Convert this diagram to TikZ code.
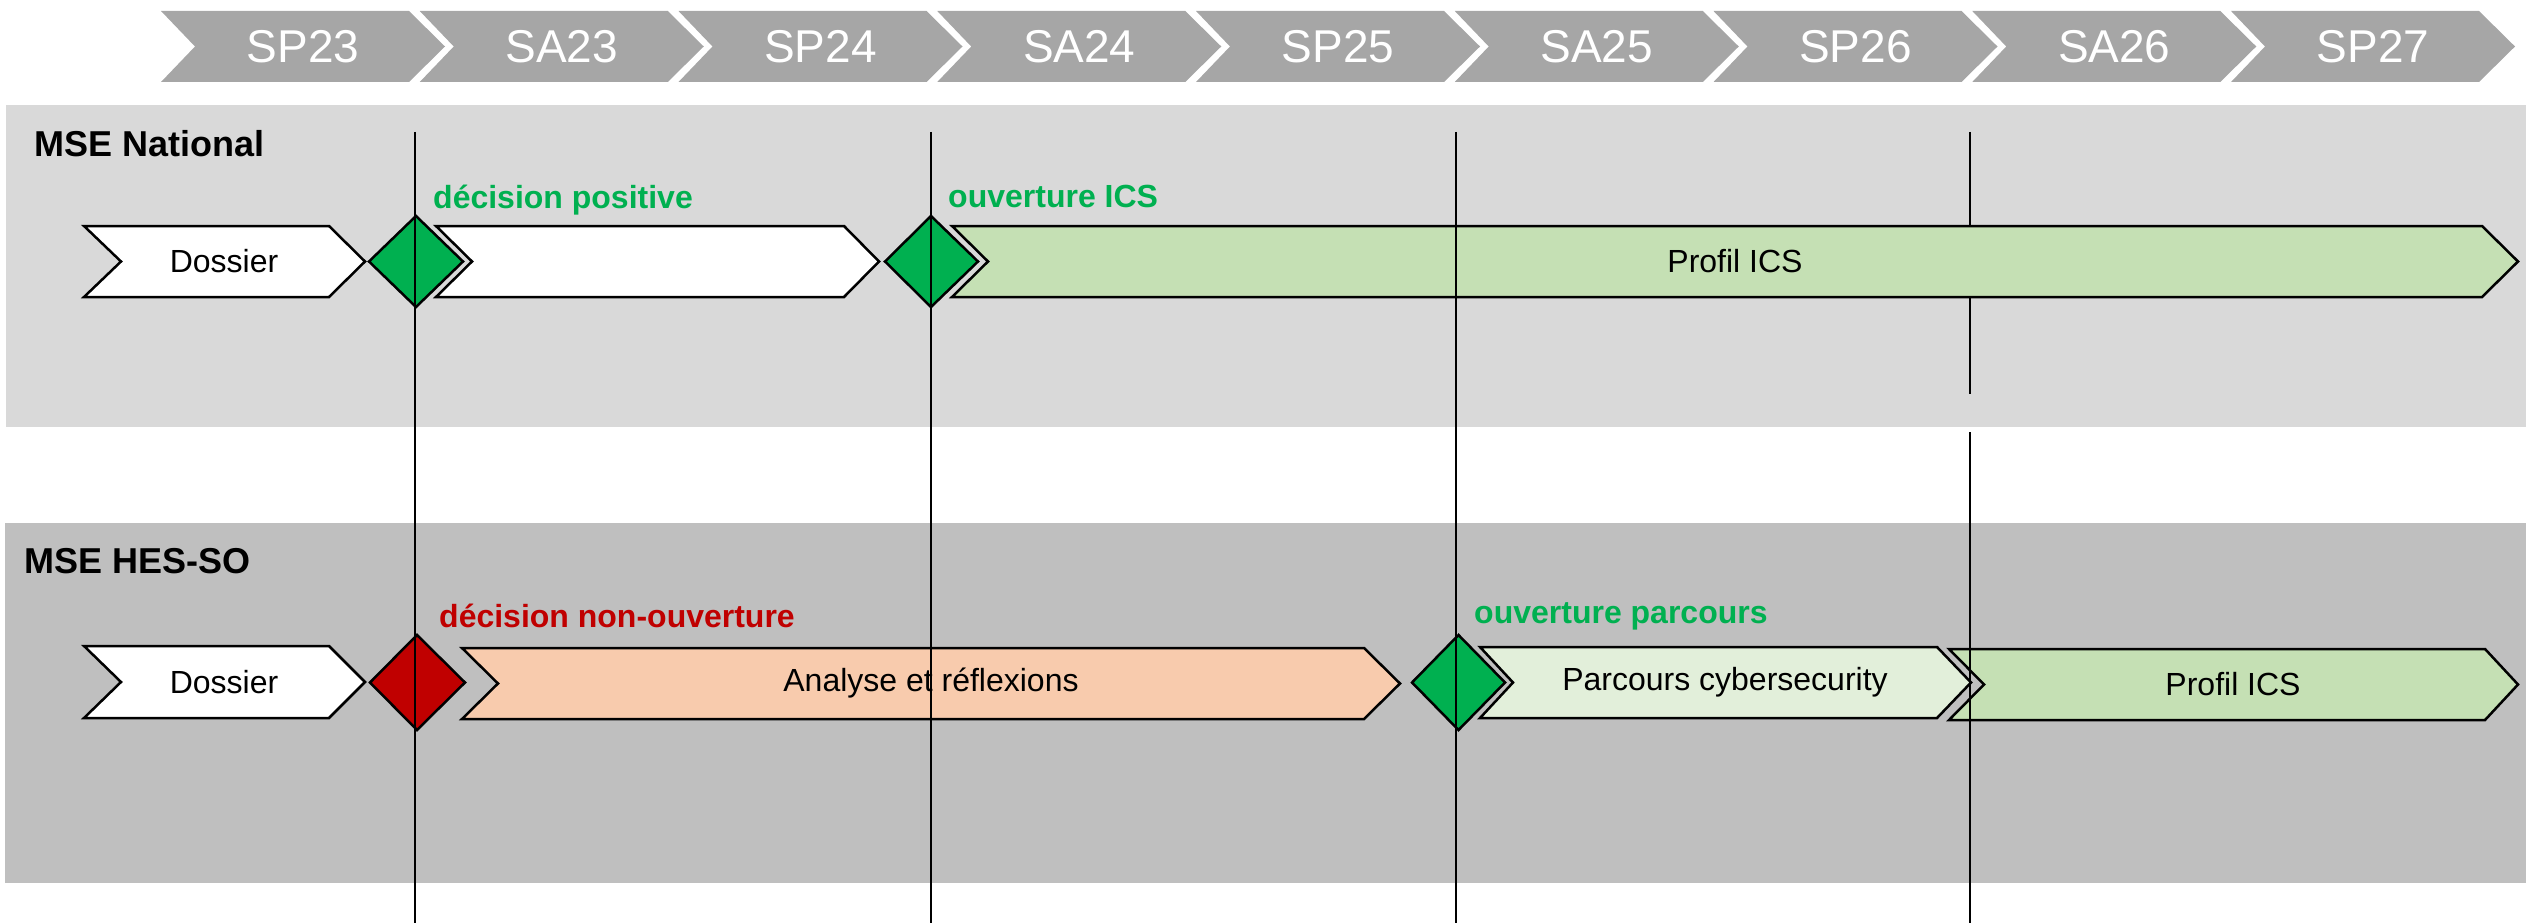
\documentclass[tikz,border=0pt]{standalone}
\usepackage{fontspec}
\setmainfont{Liberation Sans}
\definecolor{hdrgray}{HTML}{A6A6A6}
\definecolor{panelA}{HTML}{D9D9D9}
\definecolor{panelB}{HTML}{BFBFBF}
\definecolor{msgreen}{HTML}{00B050}
\definecolor{msred}{HTML}{C00000}
\definecolor{lgreen}{HTML}{C5E0B4}
\definecolor{pgreen}{HTML}{E2EFDA}
\definecolor{peach}{HTML}{F8CBAD}
% #1 style, #2 x left, #3 x right, #4 y top, #5 y bottom, #6 notch depth, #7 tip depth
\newcommand{\mychev}[7]{%
  \path[#1] (#2,#4) -- (#3,#4) -- ({#3+#7},{(#4+#5)/2}) -- (#3,#5) -- (#2,#5) -- ({#2+#6},{(#4+#5)/2}) -- cycle;}
% #1 style, #2 cx, #3 left, #4 right, #5 top, #6 bottom
\newcommand{\mydiam}[6]{%
  \path[#1] (#2,#5) -- (#4,{(#5+#6)/2}) -- (#2,#6) -- (#3,{(#5+#6)/2}) -- cycle;}
\begin{document}
\begin{tikzpicture}[x=1pt,y=-1pt,
  hdr/.style={fill=hdrgray},
  hdrtext/.style={text=white,font=\fontsize{46}{55}\selectfont,inner sep=0pt},
  boxline/.style={draw=black,line width=2.5pt,line join=miter},
  boxtext/.style={text=black,font=\fontsize{32}{38}\selectfont,inner sep=0pt},
  ttl/.style={font=\bfseries\fontsize{36}{43}\selectfont,anchor=base west,inner sep=0pt},
  lbl/.style={font=\bfseries\fontsize{32}{38}\selectfont,anchor=base west,inner sep=0pt},
  vline/.style={draw=black,line width=2pt}]
\useasboundingbox (0,0) rectangle (2526,923);
% panels
\fill[panelA] (6,105) rectangle (2526,427);
\fill[panelB] (5,523) rectangle (2526,883);
% header
\foreach \lab [count=\i from 0] in {SP23,SA23,SP24,SA24,SP25,SA25,SP26,SA26,SP27}{
  \pgfmathsetmacro{\xl}{161+258.75*\i}
  \pgfmathsetmacro{\xr}{\xl+248}
  \mychev{hdr}{\xl}{\xr}{11}{82}{34}{36}
  \node[hdrtext] (h\i) at ({\xl+142},46.5) {\lab};
}
% milestone line 4 upper part (behind the box)
\coordinate (l4a) at (1970,132);
\coordinate (l4b) at (1970,394);
\draw[vline] (l4a) -- (l4b);
% upper row
\mychev{boxline,fill=white}{84}{329}{226}{297}{37}{36}
\node[boxtext] (dos1) at (224,261.5) {Dossier};
\mychev{boxline,fill=white}{436}{844}{226}{297}{36}{35}
\mychev{boxline,fill=lgreen}{952}{2482}{226}{297}{36}{36}
\node[boxtext] (prof1) at (1735,261.5) {Profil ICS};
\mydiam{boxline,fill=msgreen}{416}{369}{463}{216}{307}
\mydiam{boxline,fill=msgreen}{931}{885}{978}{216}{307}
% lower row
\mychev{boxline,fill=white}{84}{329}{646}{718}{37}{36}
\node[boxtext] (dos2) at (224,682) {Dossier};
\mychev{boxline,fill=peach}{462}{1364}{648}{719}{36}{36}
\node[boxtext] (ana) at (931,683.5) {Analyse et réflexions};
\mychev{boxline,fill=lgreen}{1949}{2485}{649}{720}{35}{33}
\node[boxtext] (prof2) at (2233,684.5) {Profil ICS};
\mychev{boxline,fill=pgreen}{1480}{1937}{647}{718}{33}{34}
\node[boxtext] (parc) at (1725,682.5) {Parcours cybersecurity};
\mydiam{boxline,fill=msred}{417}{370}{465}{635}{730}
\mydiam{boxline,fill=msgreen}{1458.5}{1412}{1505}{635}{730}
% milestone lines
\coordinate (l1a) at (415,132); \coordinate (l1b) at (415,923);
\coordinate (l2a) at (931,132); \coordinate (l2b) at (931,923);
\coordinate (l3a) at (1456,132); \coordinate (l3b) at (1456,923);
\coordinate (l4c) at (1970,432); \coordinate (l4d) at (1970,923);
\draw[vline] (l1a) -- (l1b);
\draw[vline] (l2a) -- (l2b);
\draw[vline] (l3a) -- (l3b);
\draw[vline] (l4c) -- (l4d);
% titles and labels
\node[ttl] (t1) at (34,157) {MSE National};
\node[ttl] (t2) at (24,573) {MSE HES-SO};
\node[lbl,text=msgreen] (m1) at (433,208) {décision positive};
\node[lbl,text=msgreen] (m2) at (948,207) {ouverture ICS};
\node[lbl,text=msred] (m3) at (439,627) {décision non-ouverture};
\node[lbl,text=msgreen] (m4) at (1474,623) {ouverture parcours};
\end{tikzpicture}
\end{document}
